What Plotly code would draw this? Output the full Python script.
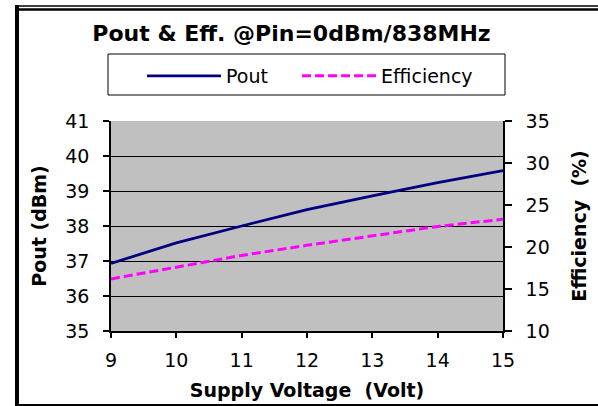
import plotly.graph_objects as go

# ---- data ----
voltage = [9, 10, 11, 12, 13, 14, 15]
pout_dbm = [36.93, 37.52, 38.0, 38.47, 38.86, 39.24, 39.58]
efficiency_pct = [16.2, 17.6, 19.0, 20.2, 21.35, 22.45, 23.3]

x_ticks = [9, 10, 11, 12, 13, 14, 15]
y_ticks = [35, 36, 37, 38, 39, 40, 41]
y2_ticks = [10, 15, 20, 25, 30, 35]
series_names = ["Pout", "Efficiency"]

# ---- layout geometry (pixels) ----
W, H = 598, 406
L, R, T, B = 111, 95, 121, 75
PW, PH = W - L - R, H - T - B


def px(x):
    return (x - L) / PW


def py(y):
    return (H - B - y) / PH


FONT = "DejaVu Sans"
PAD = "\u00a0" * 4  # spacing between legend entries

fig = go.Figure()
fig.add_trace(go.Scatter(
    x=voltage, y=pout_dbm, name=series_names[0] + PAD, mode="lines",
    line=dict(color="#000080", width=2.8), yaxis="y"))
fig.add_trace(go.Scatter(
    x=voltage, y=efficiency_pct, name=series_names[1], mode="lines",
    line=dict(color="#FF00FF", width=3, dash="9px,4px"), yaxis="y2"))

tickfont = dict(family=FONT, size=19, color="black")
titlefont = dict(family=FONT, size=19, color="black", weight="bold")

fig.update_layout(
    width=W, height=H,
    margin=dict(l=L, r=R, t=T, b=B, autoexpand=False),
    paper_bgcolor="white",
    plot_bgcolor="#C0C0C0",
    title=dict(text="Pout & Eff. @Pin=0dBm/838MHz",
               font=dict(family=FONT, size=22, color="black", weight="bold"),
               x=291.5 / W, xanchor="center", xref="container",
               y=1 - 33 / H, yanchor="middle", yref="container"),
    showlegend=True,
    legend=dict(orientation="h", x=px(142), xanchor="left",
                y=py(76), yanchor="middle",
                font=dict(family=FONT, size=19, color="black"),
                bgcolor="rgba(0,0,0,0)", borderwidth=0,
                itemwidth=74),
    xaxis=dict(range=[9, 15], tickvals=x_ticks, ticktext=[str(v) for v in x_ticks],
               showgrid=False, zeroline=False,
               showline=True, linecolor="black", linewidth=1.5,
               ticks="outside", ticklen=5, tickwidth=1.5, tickcolor="black",
               tickfont=tickfont, ticklabelstandoff=6,
               title=dict(text="Supply Voltage  (Volt)", font=titlefont, standoff=14)),
    yaxis=dict(range=[35, 41], tickvals=y_ticks, ticktext=[str(v) for v in y_ticks],
               showgrid=True, gridcolor="black", gridwidth=1.3, zeroline=False,
               showline=True, linecolor="black", linewidth=1.5,
               ticks="outside", ticklen=6, tickwidth=1.5, tickcolor="black",
               tickfont=tickfont, ticklabelstandoff=10,
               title=dict(text="Pout (dBm)", font=titlefont, standoff=14)),
    yaxis2=dict(range=[10, 35], tickvals=y2_ticks, ticktext=[str(v) for v in y2_ticks],
                overlaying="y", side="right",
                showgrid=False, zeroline=False,
                showline=True, linecolor="black", linewidth=1.5,
                ticks="outside", ticklen=7, tickwidth=1.5, tickcolor="black",
                tickfont=tickfont, ticklabelstandoff=10,
                title=dict(text="Efficiency  (%)", font=titlefont, standoff=24)),
    shapes=[
        # legend box
        dict(type="rect", xref="paper", yref="paper",
             x0=px(108), x1=px(505), y0=py(95), y1=py(54),
             line=dict(color="black", width=1), fillcolor="rgba(0,0,0,0)", layer="below"),
        # outer frame
        dict(type="line", xref="paper", yref="paper",
             x0=px(17), x1=px(17), y0=py(5), y1=py(406),
             line=dict(color="black", width=4)),
        dict(type="line", xref="paper", yref="paper",
             x0=px(15), x1=px(598), y0=py(6), y1=py(6),
             line=dict(color="black", width=1.5)),
        dict(type="line", xref="paper", yref="paper",
             x0=px(15), x1=px(598), y0=py(9.5), y1=py(9.5),
             line=dict(color="black", width=2.5)),
        dict(type="line", xref="paper", yref="paper",
             x0=px(15), x1=px(598), y0=py(405), y1=py(405),
             line=dict(color="black", width=2)),
    ],
)

fig.write_html("out.html", config={"displayModeBar": False},
               post_script="document.body.style.margin='0';document.body.style.overflow='hidden';")
